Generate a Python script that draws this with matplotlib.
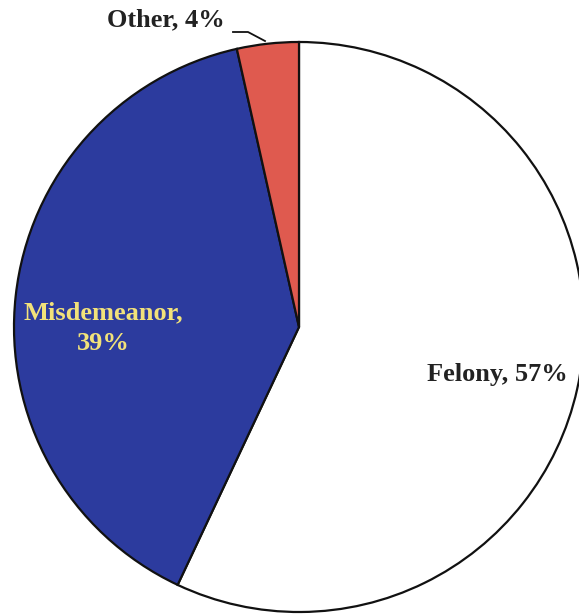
import matplotlib
matplotlib.use("Agg")
import matplotlib.pyplot as plt

categories = ["Felony", "Misdemeanor", "Other"]
values = [57.0, 39.5, 3.5]
labels = ["Felony, 57%", "Misdemeanor,\n39%", "Other, 4%"]
colors = ["#ffffff", "#2c3b9e", "#df5a4f"]
text_colors = ["#222222", "#f2e27a", "#222222"]

W, H = 579, 615
fig = plt.figure(figsize=(W / 100, H / 100), dpi=100)
ax = fig.add_axes([0, 0, 1, 1])

cx, cy, r = 299, H - 327, 285
ax.pie(values, colors=colors, startangle=90, counterclock=False,
       center=(cx, cy), radius=r,
       wedgeprops=dict(edgecolor="#111111", linewidth=1.6))
ax.set_xlim(0, W)
ax.set_ylim(0, H)
ax.set_aspect("equal")
ax.axis("off")

font = dict(family="Liberation Serif", fontweight="bold", fontsize=19)
ax.text(497, H - 375, labels[0], color=text_colors[0], ha="center", va="center", **font)
ax.text(103, H - 328, labels[1], color=text_colors[1], ha="center", va="center",
        linespacing=1.42, **font)
ax.text(166, H - 20, labels[2], color=text_colors[2], ha="center", va="center", **font)
ax.plot([233, 248, 265], [H - 32, H - 32, H - 41], color="#111111", lw=1.3)

fig.savefig("out.png", dpi=100)
